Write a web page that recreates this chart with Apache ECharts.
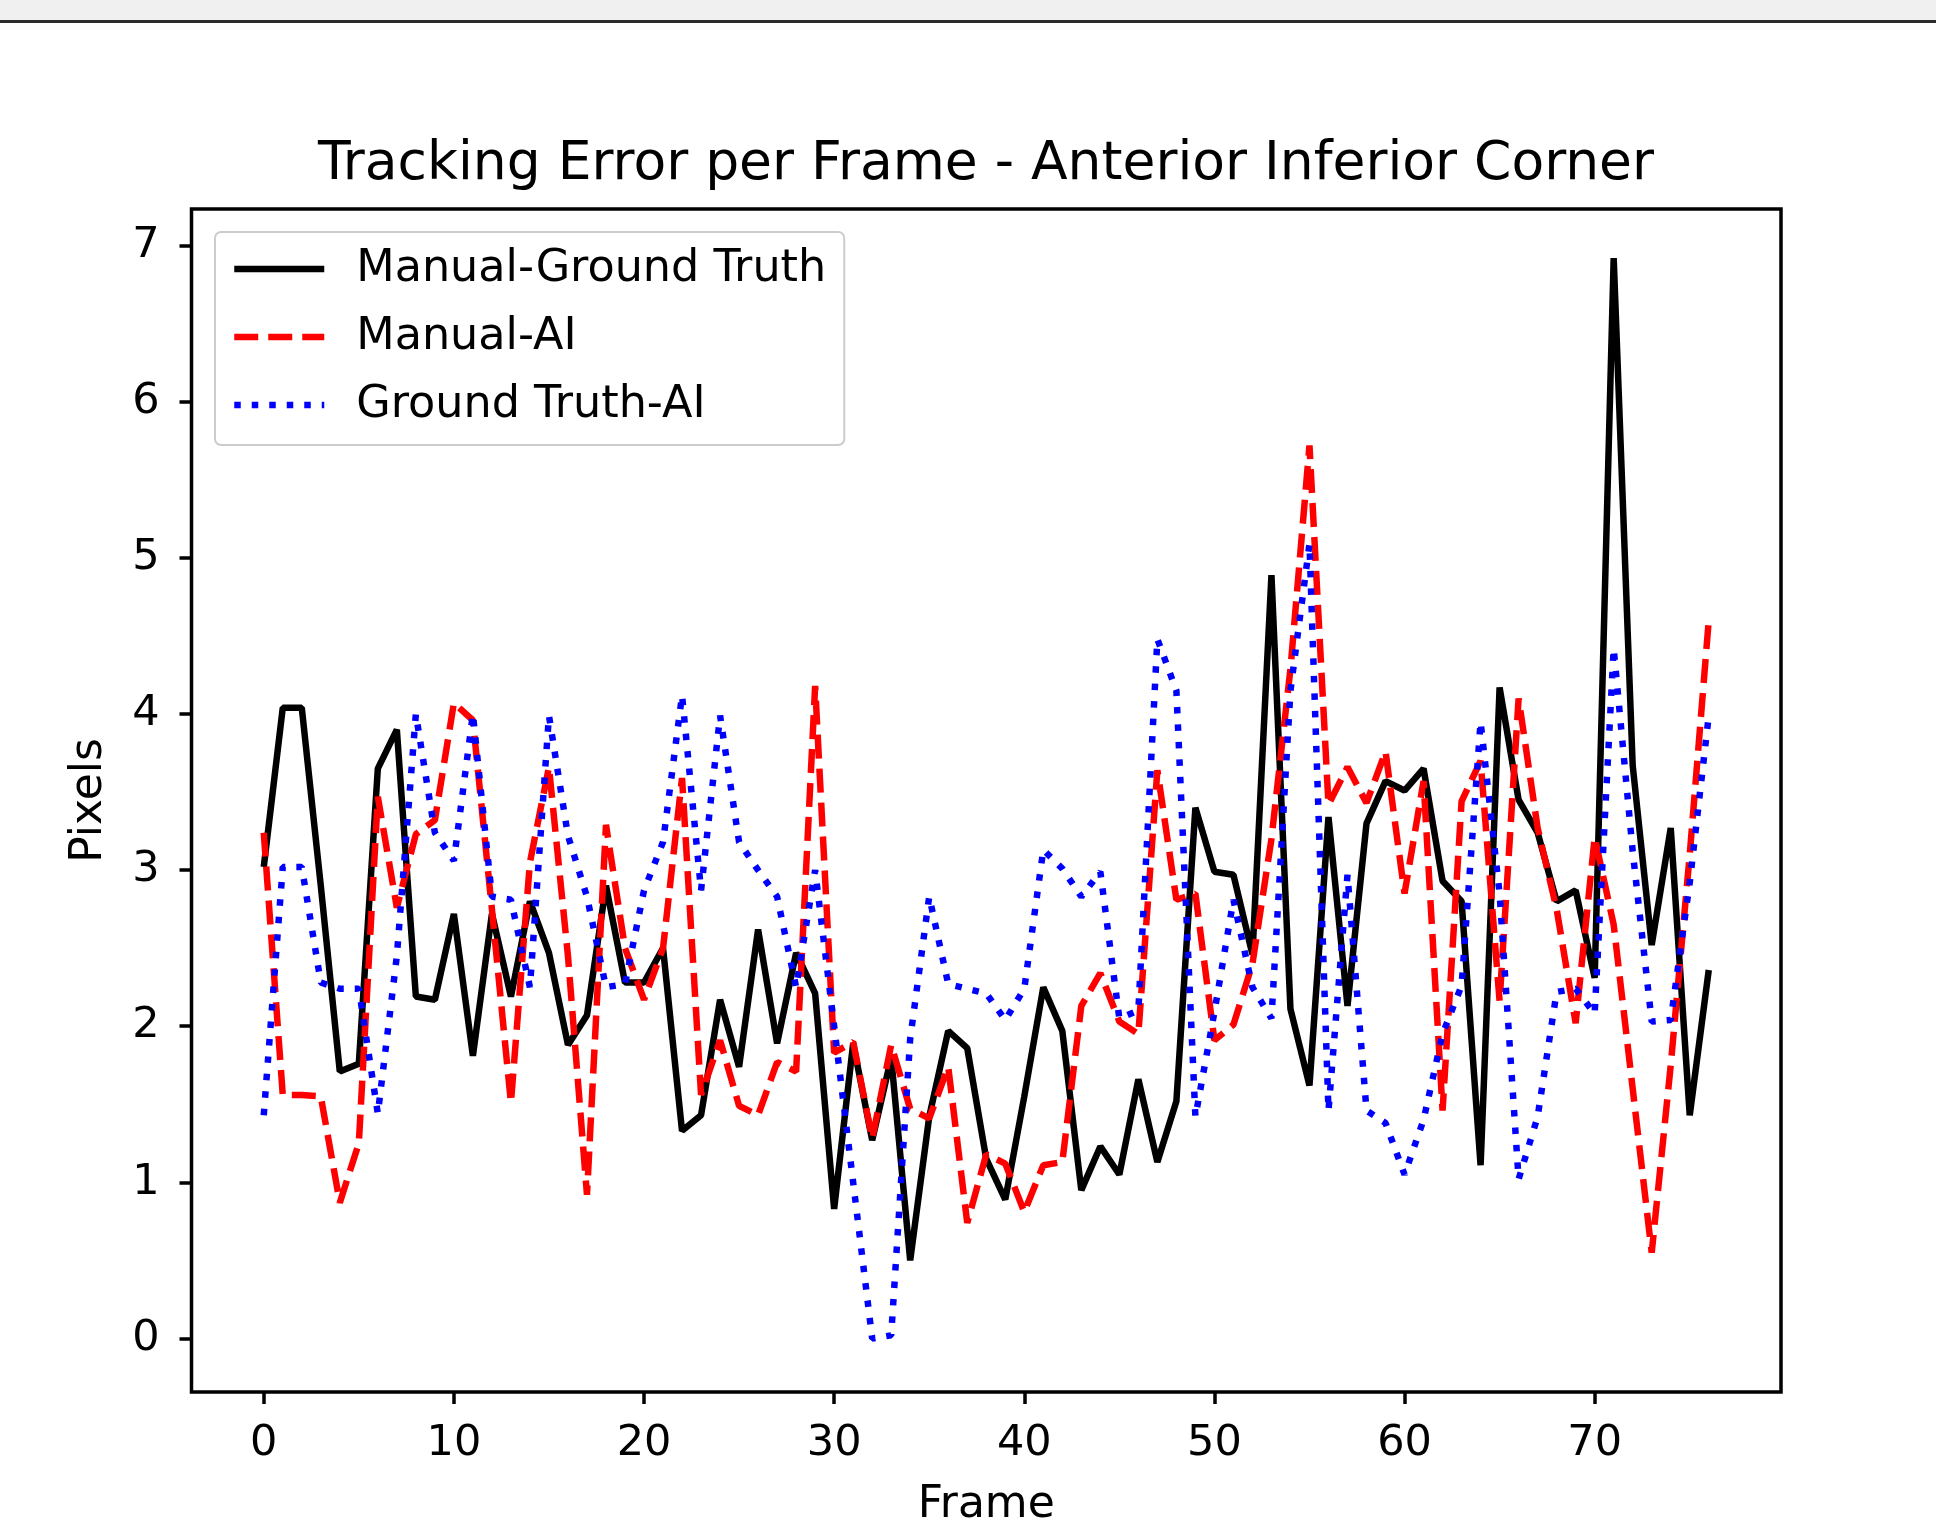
<!DOCTYPE html>
<html>
<head>
<meta charset="utf-8">
<script src="https://cdn.jsdelivr.net/npm/echarts@6/dist/echarts.min.js"></script>
<style>
html,body{margin:0;padding:0;background:#fff;}
#chart{width:1936px;height:1538px;}
</style>
</head>
<body>
<div id="chart"></div>
<script>
const titleText = 'Tracking Error per Frame - Anterior Inferior Corner';
const xName = 'Frame';
const yName = 'Pixels';
const xTicks = [0, 10, 20, 30, 40, 50, 60, 70];
const yTicks = [0, 1, 2, 3, 4, 5, 6, 7];
const frames = [0,1,2,3,4,5,6,7,8,9,10,11,12,13,14,15,16,17,18,19,20,21,22,23,24,25,26,27,28,29,30,31,32,33,34,35,36,37,38,39,40,41,42,43,44,45,46,47,48,49,50,51,52,53,54,55,56,57,58,59,60,61,62,63,64,65,66,67,68,69,70,71,72,73,74,75,76];
const seriesNames = ['Manual-Ground Truth', 'Manual-AI', 'Ground Truth-AI'];
const manualGT = [3.02,4.04,4.04,2.90,1.71,1.76,3.65,3.90,2.19,2.17,2.72,1.81,2.72,2.19,2.80,2.47,1.88,2.07,2.90,2.28,2.28,2.50,1.33,1.43,2.17,1.74,2.62,1.89,2.47,2.21,0.83,1.89,1.27,1.80,0.50,1.42,1.97,1.86,1.15,0.89,1.55,2.25,1.97,0.95,1.23,1.05,1.66,1.13,1.52,3.40,2.99,2.97,2.46,4.89,2.11,1.62,3.34,2.13,3.30,3.57,3.51,3.65,2.93,2.80,1.11,4.17,3.45,3.24,2.80,2.87,2.31,6.92,3.67,2.52,3.27,1.43,2.36];
const manualAI = [3.24,1.56,1.56,1.55,0.87,1.25,3.47,2.76,3.23,3.32,4.07,3.96,2.75,1.51,3.05,3.66,2.45,0.92,3.29,2.50,2.17,2.50,3.59,1.56,1.91,1.49,1.43,1.77,1.71,4.18,1.83,1.90,1.28,1.88,1.47,1.41,1.74,0.74,1.18,1.12,0.81,1.11,1.13,2.13,2.34,2.03,1.95,3.64,2.81,2.85,1.91,2.01,2.40,3.20,4.29,5.72,3.42,3.66,3.43,3.76,2.85,3.57,1.46,3.44,3.70,2.16,4.10,3.27,2.75,2.02,3.21,2.65,1.60,0.55,1.75,3.10,4.60];
const gtAI = [1.43,3.02,3.02,2.28,2.24,2.24,1.44,2.45,4.00,3.24,3.06,4.00,2.83,2.81,2.25,3.99,3.22,2.83,2.25,2.27,2.87,3.18,4.12,2.87,3.99,3.18,3.00,2.83,2.25,3.00,2.00,1.00,0.00,0.02,1.92,2.83,2.27,2.24,2.21,2.04,2.24,3.13,3.01,2.83,2.99,2.05,2.10,4.48,4.15,1.42,2.09,2.81,2.25,2.05,4.15,5.09,1.46,2.97,1.46,1.38,1.05,1.40,1.95,2.26,3.95,2.85,1.02,1.42,2.22,2.24,2.08,4.42,3.12,2.03,2.04,2.92,3.99];

function pairs(vals){ return frames.map((f,i)=>[f, vals[i]]); }

const FONT = 'DejaVu Sans';
const chart = echarts.init(document.getElementById('chart'), null, {renderer:'canvas'});
chart.setOption({
  backgroundColor: '#ffffff',
  animation: false,
  title: {
    text: titleText,
    left: 986, top: 138, padding: 0, textAlign: 'center',
    textStyle: {fontFamily: FONT, fontSize: 53.5, fontWeight: 'normal', color: '#000'}
  },
  graphic: [
    {type:'rect', left:0, top:0, shape:{width:1936, height:20}, style:{fill:'#f0f0f0'}, silent:true},
    {type:'rect', left:0, top:20, shape:{width:1936, height:3}, style:{fill:'#2b2b2b'}, silent:true}
  ],
  legend: {
    orient: 'vertical',
    left: 215, top: 232,
    padding: [12, 18, 15, 16],
    itemWidth: 90, itemHeight: 16, itemGap: 18,
    itemStyle: {opacity: 0},
    lineStyle: {width: 6.5},
    backgroundColor: 'rgba(255,255,255,0.85)',
    borderColor: '#cccccc', borderWidth: 2, borderRadius: 6,
    textStyle: {fontFamily: FONT, fontSize: 44.5, color: '#000', lineHeight: 50, padding: [0,0,0,27]},
    data: seriesNames
  },
  grid: {
    left: 191.5, top: 209, width: 1589.5, height: 1183,
    show: true, borderColor: '#000', borderWidth: 3.5, backgroundColor: '#fff'
  },
  xAxis: {
    type: 'value', min: -3.8, max: 79.8,
    name: xName, nameLocation: 'middle', nameGap: 92,
    nameTextStyle: {fontFamily: FONT, fontSize: 44, color: '#000'},
    axisLine: {show: false, onZero: false},
    splitLine: {show: false},
    axisTick: {show: true, length: 12, lineStyle: {color: '#000', width: 3.5}, customValues: xTicks},
    axisLabel: {fontFamily: FONT, fontSize: 43, color: '#000', margin: 30, customValues: xTicks}
  },
  yAxis: {
    type: 'value', min: -0.343, max: 7.235,
    name: yName, nameLocation: 'middle', nameGap: 80,
    nameTextStyle: {fontFamily: FONT, fontSize: 44, color: '#000'},
    axisLine: {show: false, onZero: false},
    splitLine: {show: false},
    axisTick: {show: true, length: 12, lineStyle: {color: '#000', width: 3.5}, customValues: yTicks},
    axisLabel: {fontFamily: FONT, fontSize: 43, color: '#000', margin: 32, padding: [10,0,0,0], customValues: yTicks}
  },
  series: [
    {name: seriesNames[0], type: 'line', data: pairs(manualGT), symbol: 'none', showSymbol: false,
     lineStyle: {color: '#000000', width: 6.5, type: 'solid'}, itemStyle: {color: '#000000'}, z: 3},
    {name: seriesNames[1], type: 'line', data: pairs(manualAI), symbol: 'none', showSymbol: false,
     lineStyle: {color: '#ff0000', width: 6.5, type: [24, 10]}, itemStyle: {color: '#ff0000'}, z: 4},
    {name: seriesNames[2], type: 'line', data: pairs(gtAI), symbol: 'none', showSymbol: false,
     lineStyle: {color: '#0000ff', width: 6.5, type: [6.5, 11]}, itemStyle: {color: '#0000ff'}, z: 5}
  ]
});
</script>
</body>
</html>
